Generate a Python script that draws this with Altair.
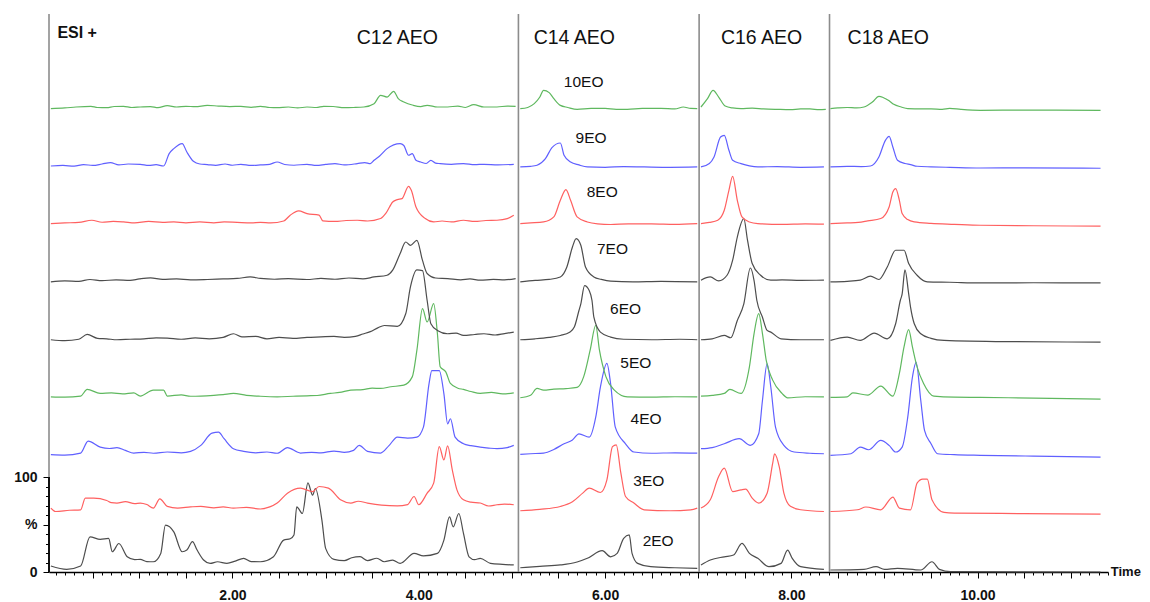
import altair as alt
import pandas as pd

# ---------------- data ----------------
trace_names = ["2EO", "3EO", "4EO", "5EO", "6EO", "7EO", "8EO", "9EO", "10EO"]
trace_offsets = [0, 61, 121, 182, 242, 304, 364, 425, 486]
trace_colors = ["#4d4d4d", "#ff6060", "#6060ff", "#5fb85f", "#4d4d4d",
                "#4d4d4d", "#ff6060", "#6060ff", "#5fb85f"]

segment_names = ["C12 AEO", "C14 AEO", "C16 AEO", "C18 AEO"]
segment_breaks = [5.07, 7.01, 8.41]
segment_label_t = [3.77, 5.67, 7.68, 9.04]

x_min, x_max = 0.03, 11.4
y_top = 587.4
x_label_values = [2, 4, 6, 8, 10]
y_tick_values = [0, 10, 20, 30, 40, 50, 60, 70, 80, 90, 100]
y_tick_text = {0: "0", 50: "%", 100: "100"}

# (time in min, intensity in % above the trace's own offset)
p_2eo = [(0.05, 6.3), (0.22, 2.8), (0.37, 6.3), (0.47, 37.0), (0.58, 34.3), (0.67, 35.3), (0.71, 21.3),
         (0.78, 30.0), (0.87, 16.0), (0.95, 13.0), (1.01, 13.3), (1.08, 11.0), (1.15, 10.8), (1.23, 19.6),
         (1.28, 49.4), (1.37, 42.3), (1.46, 21.3), (1.51, 23.1), (1.57, 32.0), (1.62, 23.1), (1.69, 12.6),
         (1.76, 9.0), (1.84, 10.8), (1.94, 9.1), (2.03, 11.5), (2.12, 14.4), (2.20, 11.0), (2.30, 10.8),
         (2.44, 16.1), (2.55, 33.6), (2.62, 35.0), (2.66, 39.0), (2.69, 68.6), (2.75, 61.6), (2.81, 93.8),
         (2.86, 80.9), (2.89, 87.9), (2.96, 54.6), (3.00, 24.9), (3.09, 13.3), (3.20, 12.0), (3.28, 15.0),
         (3.37, 16.1), (3.45, 12.0), (3.55, 14.5), (3.63, 10.8), (3.72, 12.5), (3.80, 9.1), (3.95, 19.6),
         (4.05, 17.0), (4.20, 19.6), (4.27, 33.6), (4.33, 58.1), (4.37, 47.6), (4.43, 61.6), (4.48, 40.6),
         (4.54, 16.0), (4.60, 13.0), (4.66, 14.4), (4.77, 9.1), (4.90, 8.0), (5.02, 7.4),
         (5.09, 4.5), (5.30, 6.0), (5.52, 7.4), (5.70, 10.5), (5.81, 14.4), (5.97, 22.4), (6.06, 16.0),
         (6.13, 19.6), (6.20, 35.4), (6.26, 39.0), (6.29, 19.6), (6.35, 9.1), (6.49, 5.6), (6.75, 4.5), (6.99, 3.9),
         (7.03, 7.4), (7.13, 12.6), (7.28, 16.0), (7.38, 17.9), (7.47, 30.1), (7.55, 19.6), (7.64, 14.4),
         (7.76, 5.6), (7.89, 9.1), (7.96, 23.1), (8.01, 14.4), (8.10, 5.6), (8.35, 2.8),
         (8.42, 2.1), (8.78, 2.8), (8.91, 5.6), (9.00, 2.8), (9.14, 3.9), (9.39, 2.1), (9.51, 10.8),
         (9.59, 2.8), (9.71, 0.3), (11.32, 0.0)]

p_3eo = [(0.05, 6.3), (0.10, 2.7), (0.25, 4.0), (0.37, 4.5), (0.42, 16.8), (0.51, 16.8), (0.65, 14.3),
         (0.70, 12.0), (0.76, 11.6), (0.85, 13.0), (0.95, 11.0), (1.01, 11.6), (1.08, 10.0), (1.15, 6.3),
         (1.22, 16.0), (1.30, 8.1), (1.41, 6.3), (1.55, 7.5), (1.66, 8.1), (1.80, 6.5), (1.90, 7.5),
         (2.01, 6.3), (2.15, 7.0), (2.30, 5.3), (2.40, 7.5), (2.48, 11.6), (2.59, 22.0), (2.73, 27.3),
         (2.86, 23.7), (2.93, 29.0), (3.03, 27.3), (3.16, 15.0), (3.27, 11.6), (3.35, 13.5), (3.45, 11.6),
         (3.60, 9.5), (3.77, 8.7), (3.88, 10.0), (3.95, 18.5), (4.00, 9.8), (4.09, 22.0), (4.16, 32.5),
         (4.22, 71.0), (4.27, 57.0), (4.31, 71.7), (4.36, 46.5), (4.41, 25.5), (4.48, 15.0), (4.56, 12.5),
         (4.66, 11.6), (4.75, 8.5), (4.84, 9.8), (4.92, 10.5), (5.02, 9.8),
         (5.09, 3.5), (5.30, 5.0), (5.52, 8.0), (5.65, 13.0), (5.76, 22.0), (5.83, 27.3), (5.95, 22.7),
         (6.02, 36.0), (6.08, 71.0), (6.12, 72.8), (6.17, 43.0), (6.22, 18.5), (6.31, 11.6), (6.42, 4.5),
         (6.70, 3.5), (6.92, 4.5), (6.99, 6.3),
         (7.03, 6.3), (7.13, 15.0), (7.22, 39.5), (7.28, 48.3), (7.37, 23.7), (7.46, 25.5), (7.51, 26.2),
         (7.58, 16.8), (7.65, 11.6), (7.74, 22.0), (7.80, 53.5), (7.82, 63.3), (7.87, 50.0), (7.92, 22.0),
         (7.99, 8.1), (8.10, 4.5), (8.35, 2.7),
         (8.42, 2.7), (8.71, 4.5), (8.80, 7.4), (8.96, 4.5), (9.09, 17.9), (9.16, 6.3), (9.28, 4.5),
         (9.35, 32.6), (9.41, 36.8), (9.46, 36.8), (9.51, 15.0), (9.64, 1.7), (9.75, 1.0), (10.50, 0.5), (11.32, 0.0)]

p_4eo = [(0.05, 2.5), (0.20, 2.0), (0.37, 4.2), (0.45, 16.8), (0.58, 10.5), (0.68, 9.0), (0.76, 9.9),
         (0.85, 7.0), (0.94, 4.2), (1.05, 5.0), (1.15, 4.0), (1.30, 5.3), (1.45, 4.5), (1.55, 6.0),
         (1.66, 12.3), (1.78, 25.2), (1.85, 26.2), (1.91, 19.3), (2.01, 8.8), (2.12, 6.0), (2.25, 4.5),
         (2.37, 5.3), (2.48, 4.0), (2.59, 9.9), (2.73, 4.2), (2.85, 5.0), (2.95, 4.5), (3.09, 6.3),
         (3.20, 5.0), (3.30, 7.0), (3.36, 12.3), (3.45, 6.0), (3.59, 4.2), (3.68, 12.0), (3.77, 21.0),
         (3.88, 20.0), (3.98, 21.0), (4.05, 31.5), (4.11, 77.0), (4.14, 91.0), (4.22, 91.0), (4.27, 66.6),
         (4.31, 35.0), (4.34, 40.3), (4.39, 21.0), (4.48, 14.0), (4.56, 12.0), (4.66, 10.5), (4.75, 9.5),
         (4.84, 8.8), (4.95, 10.0), (5.02, 12.3),
         (5.09, 2.8), (5.20, 3.5), (5.34, 4.2), (5.45, 8.0), (5.56, 14.0), (5.65, 18.0), (5.72, 24.5),
         (5.83, 21.0), (5.90, 42.0), (5.95, 73.5), (6.02, 98.7), (6.06, 77.0), (6.11, 31.5), (6.22, 14.0),
         (6.31, 5.3), (6.50, 4.0), (6.75, 4.5), (6.99, 4.2),
         (7.03, 8.8), (7.15, 10.0), (7.28, 14.0), (7.44, 19.3), (7.56, 12.3), (7.65, 24.5), (7.69, 59.5),
         (7.74, 98.0), (7.78, 73.5), (7.83, 31.5), (7.92, 12.3), (8.03, 5.3), (8.20, 4.0), (8.35, 3.5),
         (8.42, 1.8), (8.64, 3.5), (8.74, 10.5), (8.83, 7.7), (8.96, 17.5), (9.05, 12.3), (9.12, 5.3),
         (9.19, 10.5), (9.25, 42.0), (9.30, 84.0), (9.34, 99.7), (9.39, 59.5), (9.43, 28.0), (9.50, 14.0),
         (9.57, 3.5), (9.75, 2.5), (10.03, 1.8), (10.60, 1.0), (11.32, 0.0)]

p_5eo = [(0.05, 2.4), (0.20, 2.0), (0.37, 3.2), (0.44, 10.2), (0.58, 6.0), (0.70, 6.5), (0.82, 5.5),
         (0.94, 6.6), (1.01, 3.2), (1.15, 9.5), (1.26, 9.5), (1.30, 3.2), (1.45, 4.5), (1.55, 3.0),
         (1.66, 3.2), (1.80, 4.0), (1.90, 4.8), (2.01, 6.0), (2.15, 4.0), (2.30, 3.0), (2.48, 2.4),
         (2.65, 3.0), (2.80, 3.5), (2.91, 3.8), (3.05, 6.0), (3.15, 7.0), (3.27, 9.5), (3.40, 10.0),
         (3.50, 11.5), (3.59, 11.2), (3.70, 13.0), (3.84, 14.7), (3.93, 23.4), (3.98, 51.5), (4.04, 95.2),
         (4.09, 81.2), (4.16, 100.5), (4.20, 69.0), (4.23, 34.0), (4.29, 28.7), (4.34, 16.5), (4.42, 11.5),
         (4.48, 10.2), (4.56, 8.0), (4.66, 6.0), (4.78, 7.0), (4.90, 5.5), (5.02, 6.6),
         (5.09, 1.4), (5.20, 4.0), (5.27, 11.2), (5.34, 9.5), (5.45, 10.5), (5.58, 11.0), (5.70, 12.3),
         (5.77, 23.4), (5.84, 51.5), (5.90, 77.7), (5.94, 51.5), (6.01, 23.4), (6.10, 9.5), (6.24, 2.4),
         (6.50, 2.0), (6.75, 2.5), (6.99, 2.4),
         (7.03, 3.2), (7.15, 4.0), (7.28, 6.0), (7.34, 10.2), (7.46, 6.0), (7.55, 34.0), (7.60, 69.0),
         (7.65, 90.0), (7.69, 69.0), (7.73, 41.0), (7.80, 20.0), (7.90, 6.0), (7.96, 1.4), (8.15, 2.5), (8.35, 2.4),
         (8.42, 1.8), (8.60, 2.4), (8.66, 6.6), (8.82, 4.2), (8.96, 13.7), (9.09, 3.2), (9.16, 27.0),
         (9.21, 55.0), (9.26, 73.2), (9.30, 55.0), (9.35, 34.0), (9.42, 16.5), (9.53, 3.2), (9.75, 2.0),
         (10.03, 1.8), (10.60, 1.0), (11.32, 0.0)]

p_6eo = [(0.05, 2.5), (0.20, 1.5), (0.35, 3.0), (0.44, 8.1), (0.55, 4.0), (0.65, 3.5), (0.76, 2.5),
         (0.90, 3.0), (1.05, 3.5), (1.18, 4.5), (1.30, 4.2), (1.45, 3.0), (1.60, 4.5), (1.75, 3.5),
         (1.90, 5.0), (2.01, 8.8), (2.10, 5.5), (2.25, 6.0), (2.37, 3.5), (2.50, 5.0), (2.65, 4.0),
         (2.80, 5.0), (2.95, 5.5), (3.09, 6.0), (3.20, 5.0), (3.32, 6.0), (3.40, 8.5), (3.48, 11.0),
         (3.56, 15.0), (3.63, 17.5), (3.77, 16.5), (3.86, 29.8), (3.91, 57.8), (3.98, 76.0), (4.04, 75.3),
         (4.09, 43.8), (4.13, 19.3), (4.20, 12.3), (4.31, 8.8), (4.40, 9.5), (4.48, 7.0), (4.60, 8.0),
         (4.70, 8.8), (4.82, 7.5), (4.92, 9.0), (5.02, 10.5),
         (5.09, 2.5), (5.25, 3.5), (5.40, 5.0), (5.52, 7.0), (5.62, 10.5), (5.67, 15.8), (5.72, 33.3),
         (5.74, 40.3), (5.78, 59.5), (5.83, 54.3), (5.86, 43.8), (5.88, 26.2), (5.95, 10.5), (6.06, 5.3),
         (6.20, 3.0), (6.50, 2.5), (6.80, 3.0), (6.99, 2.5),
         (7.03, 2.5), (7.15, 3.5), (7.28, 7.0), (7.35, 4.6), (7.42, 22.8), (7.49, 40.3), (7.56, 78.0),
         (7.60, 64.8), (7.63, 43.8), (7.69, 26.2), (7.74, 12.3), (7.78, 10.5), (7.89, 3.5), (8.10, 2.5), (8.35, 2.5),
         (8.42, 1.8), (8.60, 5.3), (8.74, 1.8), (8.89, 9.5), (9.03, 3.5), (9.12, 19.3), (9.17, 43.8),
         (9.19, 50.8), (9.22, 76.0), (9.26, 50.8), (9.28, 36.9), (9.32, 19.3), (9.39, 8.8), (9.50, 4.0),
         (9.64, 1.8), (10.30, 0.5), (11.32, 0.0)]

p_7eo = [(0.05, 1.4), (0.20, 2.5), (0.35, 2.0), (0.47, 3.9), (0.60, 2.8), (0.75, 3.5), (0.90, 3.0),
         (1.00, 4.5), (1.12, 5.6), (1.25, 4.0), (1.40, 4.5), (1.55, 3.5), (1.73, 3.9), (1.90, 4.5),
         (2.05, 5.0), (2.19, 6.6), (2.30, 5.0), (2.45, 4.2), (2.60, 4.8), (2.80, 3.9), (2.95, 5.0),
         (3.10, 4.2), (3.25, 5.5), (3.40, 4.5), (3.52, 6.6), (3.66, 8.4), (3.72, 13.7), (3.80, 31.2),
         (3.86, 43.4), (3.91, 39.9), (3.98, 45.0), (4.04, 24.0), (4.09, 10.2), (4.18, 5.5), (4.31, 4.9),
         (4.45, 3.5), (4.55, 4.5), (4.66, 3.2), (4.80, 4.0), (4.92, 3.5), (5.04, 4.9),
         (5.09, 1.4), (5.25, 3.0), (5.40, 4.0), (5.52, 6.6), (5.59, 17.1), (5.65, 38.1), (5.69, 47.0),
         (5.74, 40.0), (5.79, 17.1), (5.88, 6.6), (5.96, 4.0), (6.06, 2.1), (6.30, 1.5), (6.60, 2.0), (6.99, 1.4),
         (7.03, 3.2), (7.13, 6.6), (7.22, 2.5), (7.31, 8.4), (7.37, 24.2), (7.42, 48.6), (7.49, 67.9),
         (7.53, 45.0), (7.58, 20.7), (7.67, 8.4), (7.78, 3.2), (7.90, 3.5), (8.10, 3.0), (8.35, 3.2),
         (8.42, 1.4), (8.60, 2.0), (8.74, 3.2), (8.85, 7.4), (8.94, 3.9), (9.03, 17.1), (9.12, 34.7),
         (9.21, 34.7), (9.26, 20.7), (9.35, 8.4), (9.46, 1.4), (9.70, 1.0), (10.03, 0.3), (10.60, 0.5), (11.32, 0.3)]

p_8eo = [(0.05, 2.8), (0.20, 3.5), (0.35, 4.0), (0.49, 6.3), (0.60, 4.2), (0.72, 5.0), (0.83, 4.5),
         (0.95, 3.5), (1.10, 5.0), (1.25, 4.0), (1.37, 4.5), (1.50, 3.5), (1.65, 4.5), (1.80, 3.5),
         (1.91, 4.5), (2.05, 4.0), (2.20, 3.5), (2.30, 4.0), (2.41, 3.5), (2.55, 5.5), (2.62, 11.6),
         (2.71, 16.1), (2.80, 13.3), (2.93, 11.6), (2.97, 5.6), (3.10, 5.0), (3.22, 6.0), (3.34, 6.3),
         (3.45, 5.5), (3.59, 8.1), (3.65, 14.0), (3.72, 25.5), (3.77, 28.0), (3.82, 29.0), (3.89, 42.0),
         (3.92, 37.8), (3.97, 20.3), (4.07, 8.1), (4.16, 4.5), (4.25, 5.5), (4.35, 4.5), (4.48, 6.3),
         (4.60, 5.0), (4.72, 6.0), (4.84, 6.3), (4.95, 8.0), (5.02, 11.6),
         (5.09, 2.8), (5.20, 3.5), (5.34, 4.5), (5.45, 9.8), (5.52, 27.3), (5.58, 38.5), (5.63, 27.3),
         (5.70, 9.8), (5.81, 4.5), (5.92, 2.5), (6.06, 1.8), (6.25, 2.5), (6.50, 2.5), (6.75, 2.0), (6.99, 2.8),
         (7.03, 2.8), (7.12, 4.0), (7.21, 6.3), (7.28, 16.8), (7.33, 37.8), (7.37, 52.5), (7.42, 27.3),
         (7.47, 9.8), (7.55, 4.5), (7.64, 2.8), (7.90, 2.0), (8.15, 2.5), (8.35, 2.1),
         (8.42, 2.8), (8.60, 3.5), (8.72, 4.0), (8.82, 5.6), (8.96, 8.1), (9.05, 20.3), (9.09, 36.0),
         (9.12, 39.6), (9.16, 27.3), (9.19, 13.3), (9.25, 7.0), (9.32, 4.5), (9.50, 3.0), (9.75, 2.0),
         (10.03, 1.0), (10.60, 0.5), (11.32, 0.0)]

p_9eo = [(0.05, 2.4), (0.18, 3.0), (0.30, 2.2), (0.40, 3.9), (0.50, 3.0), (0.60, 4.5), (0.69, 6.0),
         (0.78, 3.5), (0.88, 4.5), (1.01, 4.2), (1.10, 3.0), (1.18, 3.8), (1.26, 2.4), (1.32, 15.4),
         (1.37, 20.7), (1.46, 26.0), (1.51, 17.1), (1.58, 7.4), (1.65, 4.5), (1.73, 3.9), (1.82, 3.0),
         (1.92, 4.5), (2.00, 3.2), (2.09, 4.2), (2.20, 3.0), (2.30, 3.5), (2.40, 4.2), (2.48, 6.6),
         (2.56, 4.0), (2.66, 3.2), (2.80, 4.2), (2.90, 3.0), (3.00, 4.0), (3.10, 4.9), (3.20, 3.5),
         (3.34, 4.9), (3.42, 6.0), (3.48, 4.9), (3.52, 8.4), (3.58, 13.0), (3.66, 20.7), (3.80, 26.0),
         (3.84, 24.0), (3.89, 13.7), (3.93, 15.4), (3.97, 8.4), (4.02, 6.6), (4.08, 5.0), (4.13, 8.4),
         (4.18, 5.5), (4.23, 4.9), (4.35, 4.2), (4.48, 4.9), (4.60, 3.8), (4.70, 4.2), (4.85, 3.5), (5.02, 4.2),
         (5.09, 1.4), (5.20, 2.0), (5.27, 3.2), (5.36, 10.2), (5.43, 21.7), (5.52, 26.6), (5.56, 13.7),
         (5.63, 6.6), (5.72, 3.5), (5.81, 1.4), (6.00, 1.0), (6.20, 1.8), (6.42, 1.4), (6.70, 1.0), (6.99, 1.4),
         (7.03, 1.4), (7.12, 5.0), (7.17, 11.9), (7.24, 32.9), (7.28, 34.7), (7.33, 18.9), (7.37, 8.4),
         (7.46, 4.9), (7.55, 2.5), (7.64, 1.4), (7.85, 1.8), (8.10, 1.0), (8.35, 1.4),
         (8.42, 1.4), (8.60, 2.0), (8.75, 1.8), (8.85, 2.4), (8.94, 11.9), (9.01, 29.4), (9.05, 33.6),
         (9.09, 22.4), (9.14, 8.4), (9.22, 5.0), (9.28, 3.9), (9.35, 2.1), (9.50, 1.5), (9.70, 1.0),
         (10.03, 0.3), (10.50, 0.5), (11.32, 0.0)]

p_10eo = [(0.05, 1.8), (0.20, 2.5), (0.32, 3.5), (0.48, 4.2), (0.55, 3.0), (0.65, 2.8), (0.73, 4.0),
          (0.83, 4.2), (0.92, 3.0), (1.01, 3.5), (1.12, 4.0), (1.20, 2.8), (1.30, 4.9), (1.40, 3.5),
          (1.50, 4.2), (1.60, 3.8), (1.73, 5.2), (1.85, 4.5), (1.97, 4.0), (2.09, 4.2), (2.20, 3.2),
          (2.30, 4.2), (2.40, 3.0), (2.48, 2.8), (2.60, 3.5), (2.70, 2.5), (2.80, 3.5), (2.90, 3.0),
          (2.98, 4.2), (3.08, 4.0), (3.20, 2.8), (3.30, 3.0), (3.41, 3.5), (3.52, 7.0), (3.59, 15.8),
          (3.66, 14.0), (3.73, 20.0), (3.78, 12.3), (3.84, 8.7), (3.94, 5.3), (4.02, 4.0), (4.09, 5.3),
          (4.20, 3.5), (4.31, 3.5), (4.42, 4.5), (4.50, 3.0), (4.59, 6.0), (4.70, 3.5), (4.84, 3.5),
          (4.95, 4.5), (5.04, 4.2),
          (5.09, 1.8), (5.17, 3.0), (5.24, 7.0), (5.30, 14.0), (5.34, 21.0), (5.40, 18.6), (5.45, 12.3),
          (5.52, 5.2), (5.60, 3.0), (5.70, 1.0), (5.85, 2.0), (6.00, 2.0), (6.12, 1.0), (6.24, 1.0),
          (6.40, 2.0), (6.60, 2.0), (6.75, 1.5), (6.84, 3.5), (6.92, 2.0), (6.99, 1.8),
          (7.03, 3.5), (7.10, 12.3), (7.16, 21.0), (7.22, 14.0), (7.29, 4.5), (7.37, 2.5), (7.46, 1.8),
          (7.58, 2.3), (7.70, 1.5), (7.85, 1.0), (7.99, 0.7), (8.10, 1.5), (8.20, 1.5), (8.30, 0.7), (8.37, 1.0),
          (8.42, 1.8), (8.50, 2.5), (8.60, 3.0), (8.70, 2.5), (8.78, 3.5), (8.87, 8.7), (8.94, 14.7),
          (8.99, 13.3), (9.05, 10.0), (9.10, 6.3), (9.18, 3.5), (9.25, 1.8), (9.40, 1.5), (9.50, 1.5),
          (9.62, 1.0), (9.70, 2.0), (9.82, 1.0), (10.03, 0.0), (10.60, 0.3), (11.32, 0.0)]

trace_points = [p_2eo, p_3eo, p_4eo, p_5eo, p_6eo, p_7eo, p_8eo, p_9eo, p_10eo]

# trace label anchors (time, stacked level)
trace_label_t = [6.57, 6.47, 6.44, 6.33, 6.22, 6.08, 5.97, 5.85, 5.77]
trace_label_level = [32.6, 95.8, 161.0, 220.5, 276.8, 340.0, 399.5, 456.8, 515.8]

# ---------------- tables ----------------
rows = []
for name, off, pts in zip(trace_names, trace_offsets, trace_points):
    for i, (t, v) in enumerate(pts):
        seg = sum(t > b for b in segment_breaks)
        rows.append({"trace": name, "key": f"{name}-{seg}", "t": t, "level": off + v, "i": i})
df = pd.DataFrame(rows)

x_scale = alt.Scale(domain=[x_min, x_max], nice=False, zero=False)
y_scale = alt.Scale(domain=[0, y_top], nice=False, zero=False)

x_ticks = [round(0.1 * k, 1) for k in range(1, 115)]
label_codes = ",".join(str(v * 10) for v in x_label_values)
x_axis = alt.Axis(
    values=x_ticks, title=None, grid=False,
    domainColor="#000000", domainWidth=1.5,
    tickColor="#000000", tickWidth=1,
    tickSize={"condition": {"test": "abs(datum.value*2 - round(datum.value*2)) < 0.01", "value": 6}, "value": 3},
    labelExpr=f"indexof([{label_codes}], round(datum.value*10)) >= 0 ? format(datum.value, '.2f') : ''",
    labelOverlap=False, labelFlush=False, labelFontSize=14, labelFontWeight="bold",
    labelColor="#111111", labelPadding=10,
)
y_label_expr = " : ".join(f"datum.value == {k} ? '{v}'" for k, v in y_tick_text.items()) + " : ''"
y_axis = alt.Axis(
    values=y_tick_values, title=None, grid=False, domain=False,
    tickColor="#000000", tickWidth=1,
    tickSize={"condition": {"test": "datum.value % 50 == 0", "value": 6}, "value": 3.5},
    labelExpr=y_label_expr, labelOverlap=False, labelFlush=False,
    labelFontSize=14, labelFontWeight="bold", labelColor="#111111", labelPadding=6,
)

X = alt.X("t:Q", scale=x_scale, axis=x_axis)
Y = alt.Y("level:Q", scale=y_scale, axis=y_axis)

lines = alt.Chart(df).mark_line(strokeWidth=1.2, interpolate="monotone").encode(
    x=X, y=Y,
    color=alt.Color("trace:N", scale=alt.Scale(domain=trace_names, range=trace_colors), legend=None),
    detail="key:N",
    order="i:Q",
)

sep_df = pd.DataFrame({"t": segment_breaks})
separators = alt.Chart(sep_df).mark_rule(color="#8c8c8c", strokeWidth=1.6).encode(x=X)

left_df = pd.DataFrame({"t": [x_min], "level": [0], "level2": [100]})
left_line = alt.Chart(left_df).mark_rule(color="#8c8c8c", strokeWidth=1.6).encode(x=X)
left_axis = alt.Chart(left_df).mark_rule(color="#000000", strokeWidth=1.8).encode(
    x=X, y=Y, y2="level2:Q",
)

seg_df = pd.DataFrame({"name": segment_names, "t": segment_label_t, "level": [562.0] * 4})
seg_text = alt.Chart(seg_df).mark_text(fontSize=19.5, color="#111111", align="center", baseline="middle").encode(
    x=X, y=Y, text="name:N",
)

lab_df = pd.DataFrame({"name": trace_names, "t": trace_label_t, "level": trace_label_level})
lab_text = alt.Chart(lab_df).mark_text(fontSize=15.5, color="#111111", align="center", baseline="middle").encode(
    x=X, y=Y, text="name:N",
)

esi_df = pd.DataFrame({"name": ["ESI +"], "t": [0.12], "level": [567.4]})
esi_text = alt.Chart(esi_df).mark_text(fontSize=16, color="#111111", align="left",
                                       baseline="middle", fontWeight="bold").encode(
    x=X, y=Y, text="name:N",
)
time_df = pd.DataFrame({"name": ["Time"], "t": [11.43], "level": [0.0]})
time_text = alt.Chart(time_df).mark_text(fontSize=13, color="#111111", align="left",
                                         baseline="middle", fontWeight="bold").encode(
    x=X, y=Y, text="name:N",
)

chart = alt.layer(
    left_line, separators, lines, left_axis, seg_text, lab_text, esi_text, time_text
).properties(
    width=1059, height=558,
    autosize=alt.AutoSizeParams(type="none"),
    padding={"left": 41, "top": 6, "right": 34, "bottom": 30},
).configure(
    font="Liberation Sans",
).configure_view(stroke=None)

chart.save("out.html", embed_options={"renderer": "svg", "actions": False})
